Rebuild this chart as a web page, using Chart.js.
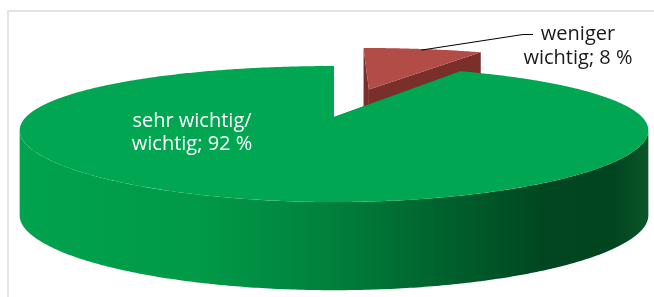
<!DOCTYPE html>
<html>
<head>
<meta charset="utf-8">
<script src="https://cdn.jsdelivr.net/npm/chart.js@4.4.1/dist/chart.umd.min.js"></script>
<style>
  html, body { margin: 0; padding: 0; background: #fff; }
  #wrap { position: relative; width: 654px; height: 297px; overflow: hidden; }
  #frame { position: absolute; left: 7px; top: 10px; width: 700px; height: 320px;
           border-left: 2px solid #e3e3e3; border-top: 2px solid #e3e3e3; }
  canvas { position: absolute; left: 0; top: 0; }
</style>
</head>
<body>
<div id="wrap">
  <div id="frame"></div>
  <canvas id="pieChart" width="654" height="297"></canvas>
</div>
<script>
// label lines per slice, and the share of each slice in percent
var categories = [["weniger", "wichtig"], ["sehr wichtig/", "wichtig"]];
var shares = [8, 92];
var topColors = ["#b24c46", "#00a651"];
var cutColors = ["#7a2f2b", "#00702f"];

// camera for the fake 3d look
var view = { cx: 334, cy: 117, rx: 308, a: 63.75, b: 0.25, bx: 0.2, depth: 84 };

function project(u, v, down) {
    var ky = 1 / (1 - view.b * v);
    var kx = 1 / (1 - view.bx * v);
    var y = view.cy + view.a * v * ky;
    if (down) y += view.depth * (1 + 0.05 * v);
    return [view.cx + view.rx * u * kx, y];
}

function geom(arc) {
    var s = (arc.options.offset || 0) / 100;
    var mid = (arc.startAngle + arc.endAngle) / 2;
    return { du: s * Math.cos(mid), dv: s * Math.sin(mid), start: arc.startAngle, end: arc.endAngle, mid: mid };
}

function rim(g, a0, a1, down) {
    var n = Math.max(8, Math.ceil((a1 - a0) / 0.01));
    var pts = [];
    for (var i = 0; i <= n; i++) {
        var t = a0 + (a1 - a0) * i / n;
        pts.push(project(g.du + Math.cos(t), g.dv + Math.sin(t), down));
    }
    return pts;
}

function fillPoly(ctx, pts, style) {
    ctx.beginPath();
    ctx.moveTo(pts[0][0], pts[0][1]);
    for (var i = 1; i < pts.length; i++) ctx.lineTo(pts[i][0], pts[i][1]);
    ctx.closePath();
    ctx.fillStyle = style;
    ctx.fill();
}

var pie3d = {
    id: "pie3d",
    beforeDatasetsDraw: function (chart) {
        var ctx = chart.ctx;
        var arcs = chart.getDatasetMeta(0).data;
        var order = arcs.map(function (a, i) { return i; });
        order.sort(function (i, j) { return Math.sin(geom(arcs[i]).mid) - Math.sin(geom(arcs[j]).mid); });

        var greenWall = ctx.createLinearGradient(17, 0, 646, 0);
        greenWall.addColorStop(0, "#00a34e");
        greenWall.addColorStop(0.3, "#009948");
        greenWall.addColorStop(0.5, "#00803b");
        greenWall.addColorStop(0.68, "#00612d");
        greenWall.addColorStop(0.84, "#004620");
        greenWall.addColorStop(0.95, "#004520");
        greenWall.addColorStop(1, "#0b5428");
        var walls = [cutColors[0], greenWall];

        // front facing part of the rim lies between the two silhouette angles
        var f0 = Math.asin(view.bx), f1 = Math.PI - f0;

        ctx.save();
        order.forEach(function (i) {
            var g = geom(arcs[i]);
            var apexT = project(g.du, g.dv, false);
            var apexB = project(g.du, g.dv, true);
            // cut faces
            [g.start, g.end].forEach(function (t) {
                var pt = project(g.du + Math.cos(t), g.dv + Math.sin(t), false);
                var pb = project(g.du + Math.cos(t), g.dv + Math.sin(t), true);
                fillPoly(ctx, [apexT, pt, pb, apexB], cutColors[i]);
            });
            // outer wall, visible part only
            [-2 * Math.PI, 0, 2 * Math.PI].forEach(function (sh) {
                var a0 = Math.max(g.start, f0 + sh), a1 = Math.min(g.end, f1 + sh);
                if (a1 > a0) {
                    var top = rim(g, a0, a1, false);
                    var bot = rim(g, a0, a1, true);
                    fillPoly(ctx, top.concat(bot.reverse()), walls[i]);
                }
            });
            // top face
            fillPoly(ctx, [apexT].concat(rim(g, g.start, g.end, false)), topColors[i]);
        });
        ctx.restore();
        return false;
    },
    afterDraw: function (chart) {
        var ctx = chart.ctx;
        var arcs = chart.getDatasetMeta(0).data;
        var texts = categories.map(function (lines, i) {
            var t = lines.slice();
            t[t.length - 1] += "; " + shares[i] + " %";
            return t;
        });
        ctx.save();
        ctx.font = "20px 'Open Sans'";
        ctx.textAlign = "center";
        ctx.textBaseline = "middle";

        // small slice: leader line and dark text outside
        var g = geom(arcs[0]);
        var p = project(g.du + 0.97 * Math.cos(g.mid), g.dv + 0.97 * Math.sin(g.mid), false);
        ctx.strokeStyle = "#000";
        ctx.lineWidth = 1;
        ctx.beginPath();
        ctx.moveTo(p[0], p[1]);
        ctx.lineTo(523, 34.5);
        ctx.lineTo(533, 34.5);
        ctx.stroke();
        ctx.fillStyle = "#1a1a1a";
        ctx.fillText(texts[0][0], 578, 34);
        ctx.fillText(texts[0][1], 578, 58);

        // big slice: white text on the top face
        ctx.fillStyle = "#ffffff";
        ctx.fillText(texts[1][0], 192, 121);
        ctx.fillText(texts[1][1], 192, 144);
        ctx.restore();
    }
};

new Chart(document.getElementById("pieChart"), {
    type: "pie",
    data: {
        labels: categories.map(function (l) { return l.join(" "); }),
        datasets: [{
            data: shares,
            backgroundColor: topColors,
            borderWidth: 0,
            offset: [50, 0]
        }]
    },
    options: {
        responsive: false,
        animation: false,
        events: [],
        plugins: {
            legend: { display: false },
            tooltip: { enabled: false }
        }
    },
    plugins: [pie3d]
});
</script>
</body>
</html>
